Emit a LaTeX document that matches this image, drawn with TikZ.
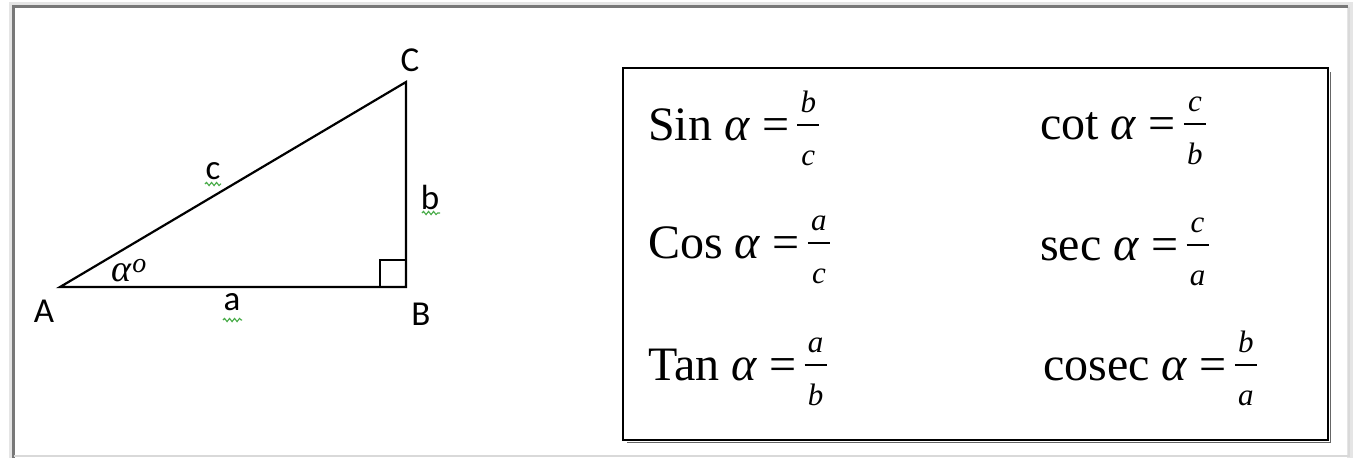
\RequirePackage{fix-cm}
\documentclass[tikz,border=0pt]{standalone}
\usepackage{fontspec}
\setmainfont{Liberation Serif}
\newfontfamily\calibri{Carlito}
\usetikzlibrary{decorations.pathmorphing}
\definecolor{framegray}{RGB}{120,120,120}
\definecolor{wavygreen}{RGB}{70,170,70}
\newcommand{\ratio}[2]{%
  \rlap{\raisebox{28pt}{\makebox[22pt]{\fontsize{31}{31}\selectfont\itshape #1}}}%
  \rlap{\raisebox{14pt}{\rule{22pt}{1.8pt}}}%
  \raisebox{-25pt}{\makebox[22pt]{\fontsize{31}{31}\selectfont\itshape #2}}}
\newcommand{\trigrow}[3]{#1 \textit{α} =\hspace{8pt}\ratio{#2}{#3}}

\tikzset{
  side/.style={line width=2.2pt, line join=miter},
  vlabel/.style={font=\calibri\fontsize{35}{38}\selectfont, inner sep=0pt},
  formula/.style={anchor=base west, inner sep=0pt, font=\fontsize{48}{54}\selectfont},
  squiggle/.style={draw=wavygreen, line width=1.1pt, decorate,
    decoration={snake, segment length=5pt, amplitude=1.6pt}},
}

\begin{document}
\begin{tikzpicture}[x=1pt, y=-1pt]
  \useasboundingbox (0,0) rectangle (1361,459);
  \draw[black!10, line width=6pt] (12,458) -- (12,5) -- (1350,5) -- (1350,458);
  \draw[framegray, line width=3pt] (13.5,458) -- (13.5,6.5) -- (1348,6.5);
  \draw[black!15, line width=2pt] (1348.5,7) -- (1348.5,455.5) -- (14,455.5);

  \coordinate (A) at (60,287);
  \coordinate (B) at (406,287);
  \coordinate (C) at (406,82);
  \draw[side] (A) -- (B) -- (C) -- cycle;
  \draw[line width=1.8pt] ([xshift=-26pt]B) |- ([yshift=27pt]B);

  \node[vlabel] (lA) at (44,311) {A};
  \node[vlabel] (lB) at (421,314) {B};
  \node[vlabel] (lC) at (410,60) {C};
  \node[vlabel] (lc) at (213,171) {c};
  \node[vlabel] (lb) at (430,197) {b};
  \node[vlabel] (la) at (232,302) {a};
  \node[inner sep=0pt, font=\fontsize{38}{40}\selectfont] (alpha) at (129,271)
    {\textit{α}\raisebox{9pt}{\fontsize{28}{30}\selectfont\textit{o}}};
  \draw[squiggle] (205,184) -- (221,184);
  \draw[squiggle] (422,213) -- (440,213);
  \draw[squiggle] (223,320) -- (242,320);

  \draw[black!60, line width=1.6pt] (627,442.5) -- (1330.5,442.5) -- (1330.5,72);
  \draw[side] (623,68) rectangle (1328,440);

  \node[formula] (sin) at (648,140) {\trigrow{Sin}{b}{c}};
  \node[formula] (cos) at (648,258) {\trigrow{Cos}{a}{c}};
  \node[formula] (tan) at (648,380) {\trigrow{Tan}{a}{b}};
  \node[formula] (cot) at (1040,139) {\trigrow{cot}{c}{b}};
  \node[formula] (sec) at (1040,260) {\trigrow{sec}{c}{a}};
  \node[formula] (csc) at (1043,380) {\trigrow{cosec}{b}{a}};
\end{tikzpicture}
\end{document}
